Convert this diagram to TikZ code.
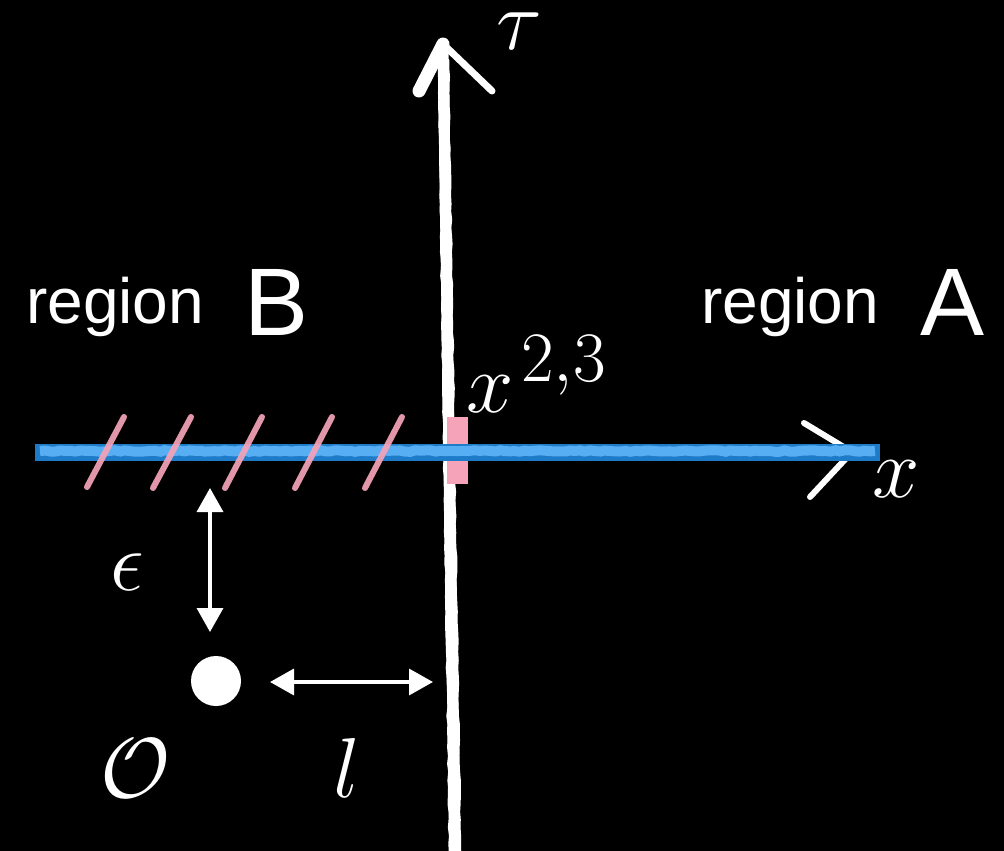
\documentclass[tikz,border=0pt]{standalone}
\usepackage{fontspec}
\setsansfont{Liberation Sans}
\usetikzlibrary{arrows.meta,decorations.pathmorphing}
\definecolor{blueA}{HTML}{1E7BC8}
\definecolor{blueB}{HTML}{58AEF2}
\definecolor{pinkA}{HTML}{F5A3B8}
\newcommand{\bigmath}[1]{\scalebox{3.42}{\Huge$#1$}}
\tikzset{
  chalk/.style={draw=white,line cap=round},
  hatch/.style={draw=pinkA,line width=6pt,line cap=round,opacity=0.92},
  dimarrow/.style={draw=white,line width=3.5pt,{Triangle[length=24pt,width=26pt]}-{Triangle[length=24pt,width=26pt]}},
  mathlbl/.style={text=white,inner sep=0pt,anchor=base west},
  sanslbl/.style={text=white,inner sep=0pt,anchor=base west},
}
\begin{document}
\begin{tikzpicture}[x=1pt,y=-1pt]
\fill[black] (0,0) rectangle (1004,851);
\useasboundingbox (0,0) rectangle (1004,851);

% coordinates
\coordinate (ytop) at (443,44);
\coordinate (ybot) at (455,851);
\coordinate (xl) at (35,452);
\coordinate (xr) at (880,452);
\coordinate (xapex) at (852,452);

% vertical axis (chalk)
\draw[chalk,line width=11pt] (ytop) -- (ybot);
\draw[chalk,line width=2.5pt,decorate,decoration={random steps,segment length=8pt,amplitude=0.6pt}] (439,60) -- (450,851);
\draw[chalk,line width=2.5pt,decorate,decoration={random steps,segment length=8pt,amplitude=0.6pt}] (448,60) -- (460,851);
% top arrowhead
\draw[chalk,line width=13pt] (419,91) -- (ytop);
\draw[chalk,line width=7pt] (ytop) -- (492,91);

% pink mark at intersection
\fill[pinkA] (447,417) rectangle (468,484);

% right arrowhead (white, under the blue)
\draw[chalk,line width=6pt] (804,423) -- (xapex) -- (810,497);

% blue axis
\draw[blueA,line width=17pt] (xl) -- (xr);
\draw[blueB,line width=10pt,decorate,decoration={random steps,segment length=5pt,amplitude=0.8pt}] (40,451) -- (875,451);

% pink hatches
\draw[hatch] (87,487) -- (124,417);
\draw[hatch] (153,488) -- (191,417);
\draw[hatch] (225,488) -- (262,417);
\draw[hatch] (295,488) -- (332,417);
\draw[hatch] (365,488) -- (402,417);

% operator dot
\node[circle,fill=white,minimum size=50pt,inner sep=0pt] (dot) at (216,681) {};
\coordinate (epsTop) at (210,488);
\coordinate (epsBot) at (210,632);
\coordinate (lL) at (270,682);
\coordinate (lR) at (433,682);
\draw[dimarrow] (epsTop) -- (epsBot);
\draw[dimarrow] (lL) -- (lR);

% labels
\node[mathlbl] (tau) at (496,50) {\bigmath{\tau}};
\node[mathlbl] (xlab) at (872,497) {\bigmath{x}};
\node[mathlbl] (x23) at (466,412) {\bigmath{x^{\mkern2mu 2,3}}};
\node[mathlbl] (eps) at (110,590) {\bigmath{\epsilon}};
\node[mathlbl] (O) at (100,797) {\bigmath{\mathcal{O}}};
\node[mathlbl] (l) at (333,797) {\bigmath{l}};

\node[sanslbl,font=\sffamily\fontsize{64}{70}\selectfont] (regB) at (26,323) {region};
\node[sanslbl,font=\sffamily\fontsize{96}{100}\selectfont] (B) at (244,335) {B};
\node[sanslbl,font=\sffamily\fontsize{64}{70}\selectfont] (regA) at (701,323) {region};
\node[sanslbl,font=\sffamily\fontsize{96}{100}\selectfont] (A) at (920,335) {A};
\end{tikzpicture}
\end{document}
